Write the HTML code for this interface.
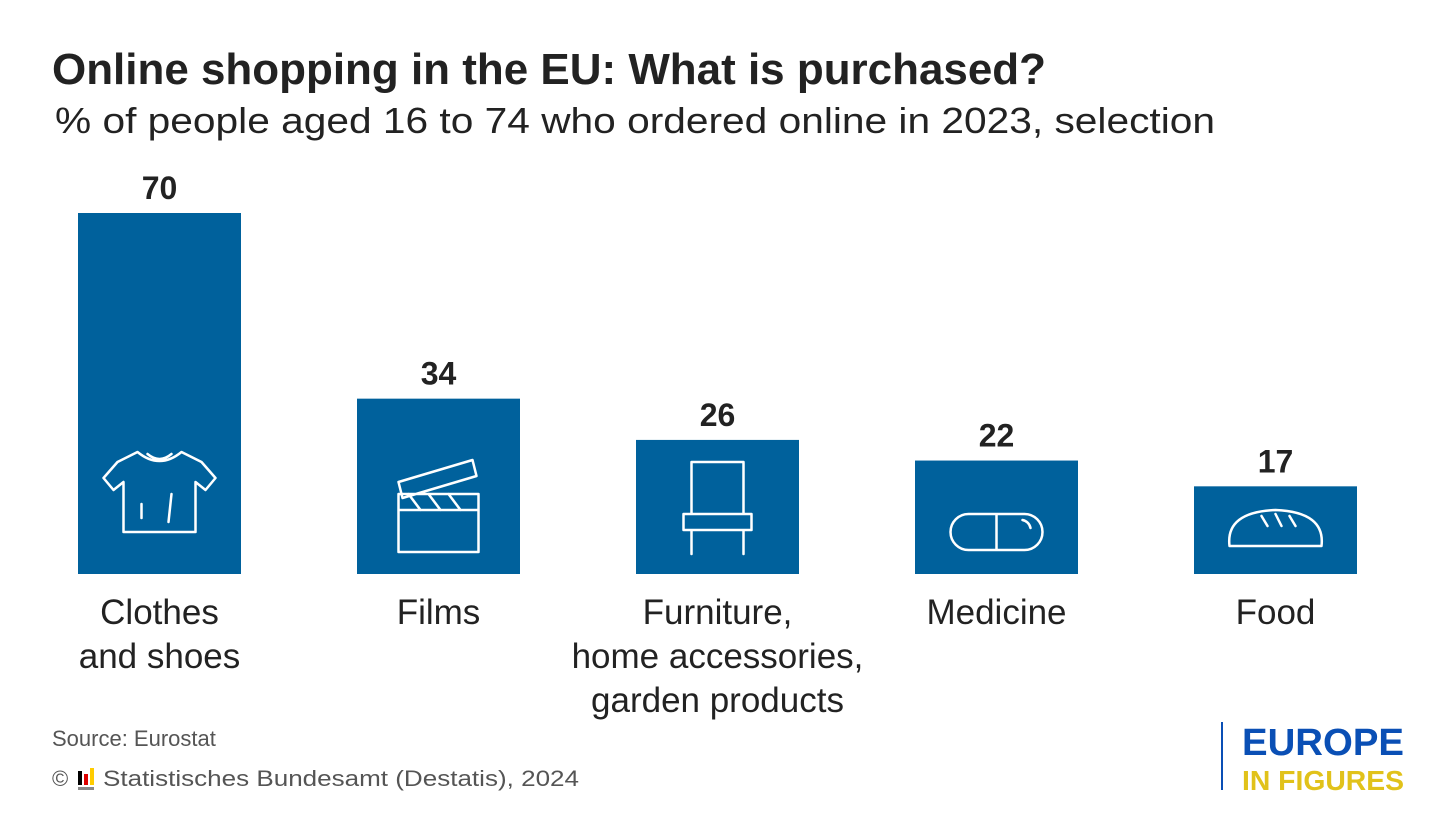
<!DOCTYPE html>
<html><head><meta charset="utf-8"><style>
html,body{margin:0;padding:0;background:#fff;}
svg{display:block;font-family:"Liberation Sans",sans-serif;}
</style></head><body>
<svg id="chart" width="1456" height="819" viewBox="0 0 1456 819">
<text x="52" y="84" font-size="44" font-weight="bold" fill="#222" textLength="994" lengthAdjust="spacingAndGlyphs">Online shopping in the EU: What is purchased?</text>
<text x="55" y="133" font-size="36" fill="#222" textLength="1160" lengthAdjust="spacingAndGlyphs">% of people aged 16 to 74 who ordered online in 2023, selection</text>
<g id="bars"></g>
<text x="52" y="746" font-size="22" fill="#555">Source: Eurostat</text>
<g>
<text x="52" y="786" font-size="22" fill="#555">©</text>
<rect x="78" y="771" width="4" height="14" fill="#000"/><rect x="84" y="774" width="4" height="11" fill="#d00"/><rect x="90" y="768" width="4" height="17" fill="#fc0"/><rect x="78" y="787" width="16" height="3" fill="#888"/>
<text x="103" y="786" font-size="22" fill="#555" textLength="476" lengthAdjust="spacingAndGlyphs">Statistisches Bundesamt (Destatis), 2024</text>
</g>
<g>
<rect x="1221" y="722" width="2" height="68" fill="#0a4fb5"/>
<text x="1242" y="755" font-size="38" font-weight="bold" fill="#0a4fb5" textLength="162" lengthAdjust="spacingAndGlyphs">EUROPE</text>
<text x="1242" y="790" font-size="28" font-weight="bold" fill="#e1c21a" textLength="162" lengthAdjust="spacingAndGlyphs">IN FIGURES</text>
</g>
</svg>
<script>
const categories = [["Clothes","and shoes"],["Films"],["Furniture,","home accessories,","garden products"],["Medicine"],["Food"]];
const values = [70, 34, 26, 22, 17];
const labels = ["70","34","26","22","17"];
const NS="http://www.w3.org/2000/svg";
const g=document.getElementById('bars');
const base=574, scale=361/70, x0=78, step=279, bw=163;
function yScale(v){return base - v*scale;}
function xScale(i){return x0 + i*step;}
function mk(t,a){const e=document.createElementNS(NS,t);for(const k in a)e.setAttribute(k,a[k]);return e;}
const icons=[
 "M-22,-122 L-42,-112 L-56,-96 L-46,-84 L-36,-92 L-36,-42 L36,-42 L36,-92 L46,-84 L56,-96 L42,-112 L22,-122 Q0,-104 -22,-122 Z M-12,-120 Q0,-110 12,-120 M-18,-70 L-18,-56 M12,-80 L9,-52",
 "M-40,-80 L40,-80 L40,-22 L-40,-22 Z M-40,-80 L-40,-64 L40,-64 L40,-80 M-40,-92 L34,-114 L38,-98 L-36,-76 Z M-30,-80 L-18,-64 M-10,-80 L2,-64 M10,-80 L22,-64",
 "M-26,-112 L26,-112 L26,-60 L-26,-60 Z M-34,-60 L34,-60 L34,-44 L-34,-44 Z M-26,-44 L-26,-20 M26,-44 L26,-20",
 "M-28,-60 L28,-60 A18,18 0 0 1 28,-24 L-28,-24 A18,18 0 0 1 -28,-60 Z M0,-60 L0,-24 M26,-54 A10,10 0 0 1 34,-46",
 "M-46,-28 Q-50,-62 0,-64 Q50,-62 46,-28 Z M-14,-58 L-8,-48 M0,-60 L6,-48 M14,-58 L20,-48"
];
values.forEach((v,i)=>{
 const x=xScale(i), y=yScale(v), cx=x+bw/2;
 const r=mk('rect',{x:x,y:y,width:bw,height:base-y,fill:'#00619c'});
 
 
 g.appendChild(r);
 const ic=mk('path',{d:icons[i],transform:'translate('+cx+','+base+')',fill:'none',stroke:'#fff','stroke-width':2.5,'stroke-linejoin':'round','stroke-linecap':'round'});
 
 
 g.appendChild(ic);
 const t=mk('text',{x:cx,y:y-14,'text-anchor':'middle','font-size':32,'font-weight':'bold',fill:'#222'});
 t.textContent=labels[i];
 
 
 g.appendChild(t);
 categories[i].forEach((ln,j)=>{
  const c=mk('text',{x:cx,y:624+j*44,'text-anchor':'middle','font-size':35,fill:'#222'});
  c.textContent=ln;
  
  
  g.appendChild(c);
 });
});
</script>
</body></html>
